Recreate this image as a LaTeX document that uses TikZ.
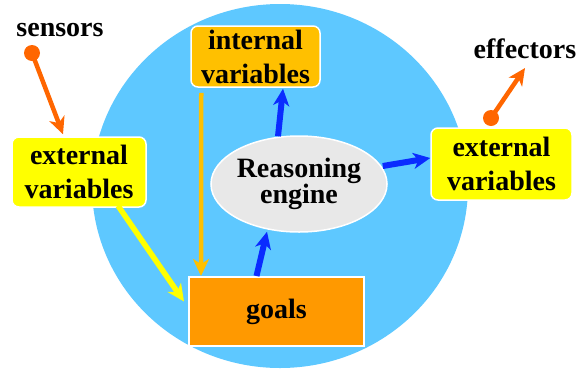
\documentclass[tikz,border=0pt]{standalone}
\usepackage{fontspec}
\setmainfont{Liberation Serif}[BoldFont={Liberation Serif Bold}]
\usetikzlibrary{arrows.meta,shapes.geometric,calc}
\definecolor{sky}{HTML}{5EC8FF}
\definecolor{amber}{HTML}{FFC000}
\definecolor{goalc}{HTML}{FF9900}
\definecolor{yel}{HTML}{FFFF00}
\definecolor{orng}{HTML}{FF6600}
\definecolor{blu}{HTML}{0A2BFF}
\definecolor{eng}{HTML}{E8E8E8}
\begin{document}
\begin{tikzpicture}[x=1pt,y=-1pt,
  lbl/.style={font=\fontsize{28}{34}\selectfont\bfseries, align=center},
  box/.style={lbl, draw=white, line width=1.5pt, rounded corners=7pt, inner sep=0pt},
  arr/.style={line width=#1, -{Stealth[length=17pt,width=16pt,inset=5pt]}},
  arr/.default=4.5pt
]
\useasboundingbox (0,0) rectangle (585,370);
\fill[sky] (280,186) ellipse [x radius=188pt, y radius=182pt];

\node[box, fill=amber, minimum width=129pt, minimum height=61pt] (int) at (255.5,56.5) {internal\\variables};
\node[box, fill=yel, minimum width=134pt, minimum height=70pt] (extL) at (79,172) {external\\variables};
\node[box, fill=yel, minimum width=141pt, minimum height=72pt] (extR) at (501.5,164) {external\\variables};
\node[lbl, draw=white, line width=2pt, fill=goalc, minimum width=175pt, minimum height=69pt, inner sep=0pt] (goals) at (276.5,311.5) {goals};
\node[ellipse, fill=eng, draw=white, line width=1.5pt, minimum width=176pt, minimum height=96pt, inner sep=0pt,
      font=\fontsize{28}{26}\selectfont\bfseries, align=center] (engn) at (299,184) {Reasoning\\engine};

\node[lbl] (sens) at (60,30) {sensors};
\node[lbl] (eff) at (525,48.5) {effectors};

\coordinate (sdot) at (32,53);
\coordinate (edot) at (491,118);
\fill[orng] (sdot) circle (8pt);
\fill[orng] (edot) circle (8pt);
\draw[arr=4.5pt, orng] (sdot) -- ($(extL.north)+(-16,-2)$);
\draw[arr=4.5pt, orng] (edot) -- ($(eff.south)+(0,6)$);

\draw[arr=5.5pt, yel] ($(extL.south)+(39,-2)$) -- ($(goals.west)+(-4,-10)$);
\draw[arr=4.5pt, amber] ($(int.south west)+(11,5)$) -- ($(goals.north west)+(13,0)$);

\draw[arr=6pt, blu] ($(goals.north)+(-20,0)$) -- ($(engn.south)+(-32,-1)$);
\draw[arr=6pt, blu] ($(engn.north)+(-21,1)$) -- ($(int.south)+(27.5,1)$);
\draw[arr=6pt, blu] ($(engn.east)+(-5,-18)$) -- ($(extR.west)+(0,-6)$);
\end{tikzpicture}
\end{document}
